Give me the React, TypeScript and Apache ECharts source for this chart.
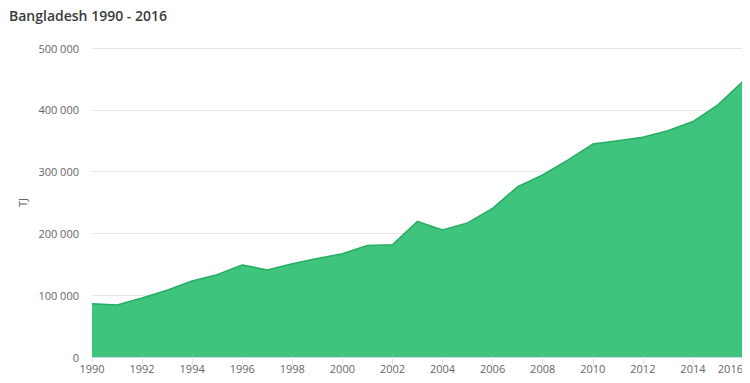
import React, { useEffect, useRef } from "react";
import * as echarts from "echarts";

const years: string[] = [
  "1990", "1991", "1992", "1993", "1994", "1995", "1996", "1997", "1998", "1999",
  "2000", "2001", "2002", "2003", "2004", "2005", "2006", "2007", "2008", "2009",
  "2010", "2011", "2012", "2013", "2014", "2015", "2016",
];

const values: number[] = [
  86000, 84000, 95500, 108000, 123000, 133000, 149000, 141000, 151000, 159500,
  167000, 180500, 181500, 219500, 205500, 217000, 240500, 275500, 294500, 318500,
  344500, 350000, 355500, 366000, 381000, 408000, 446000,
];

const title = "Bangladesh 1990 - 2016";
const unit = "TJ";

function fmt(v: number): string {
  return String(v).replace(/\B(?=(\d{3})+(?!\d))/g, " ");
}

export default function App() {
  const ref = useRef<HTMLDivElement>(null);
  useEffect(() => {
    if (!ref.current) return;
    const chart = echarts.init(ref.current, undefined, { renderer: "svg" });
    chart.setOption({
      animation: false,
      backgroundColor: "#ffffff",
      title: {
        text: title,
        left: 4,
        top: 3,
        textStyle: {
          fontFamily: "Open Sans",
          fontSize: 14,
          fontWeight: 600,
          color: "#3a3a3a",
        },
      },
      grid: { left: 92, right: 7, top: 48, bottom: 26 },
      xAxis: {
        type: "category",
        data: years,
        boundaryGap: false,
        axisLine: { lineStyle: { color: "#ccd6eb", width: 1 } },
        axisTick: { show: true, interval: 1, length: 8, lineStyle: { color: "#e6e6e6" }, inside: false },
        axisLabel: {
          interval: 1,
          color: "#666666",
          fontFamily: "Open Sans",
          fontSize: 11,
          margin: 6,
          alignMaxLabel: "right",
        },
        splitLine: { show: false },
      },
      yAxis: {
        type: "value",
        min: 0,
        max: 500000,
        interval: 100000,
        name: unit,
        nameLocation: "middle",
        nameGap: 62,
        nameTextStyle: { color: "#666666", fontFamily: "Open Sans", fontSize: 11 },
        axisLine: { show: false },
        axisTick: { show: false },
        axisLabel: {
          color: "#666666",
          fontFamily: "Open Sans",
          fontSize: 11,
          margin: 13,
          formatter: (v: number) => fmt(v),
        },
        splitLine: { lineStyle: { color: "#e6e6e6", width: 1 } },
      },
      series: [
        {
          type: "line",
          data: values,
          symbol: "none",
          lineStyle: { color: "#27ad64", width: 1.5 },
          areaStyle: { color: "#3ec47c", opacity: 1 },
        },
      ],
    });
    return () => chart.dispose();
  }, []);
  return <div ref={ref} style={{ width: 750, height: 383, margin: -8 }} />;
}
